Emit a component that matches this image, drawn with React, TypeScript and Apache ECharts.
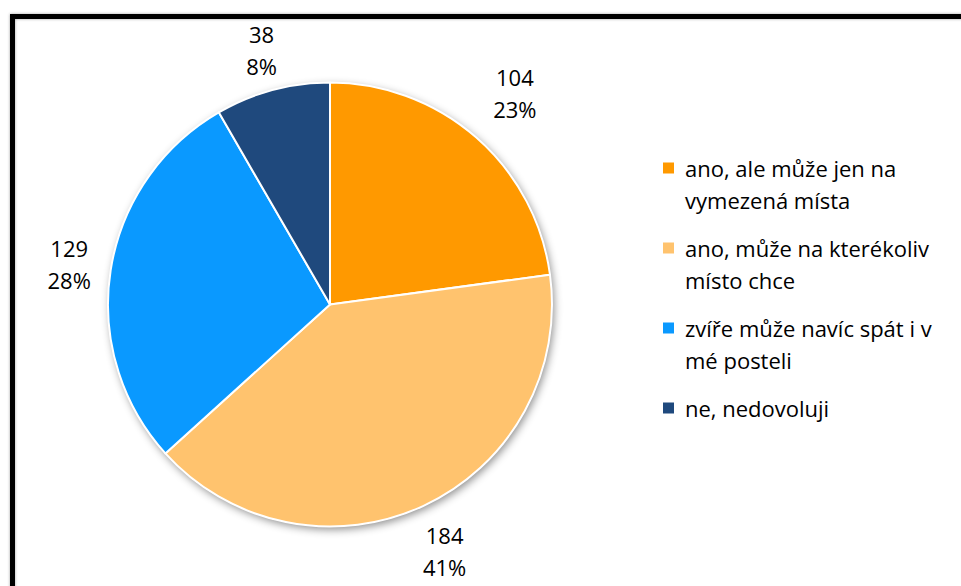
import React, { useEffect, useRef } from "react";
import * as echarts from "echarts";

const categories = [
  "ano, ale může jen na vymezená místa",
  "ano, může na kterékoliv místo chce",
  "zvíře může navíc spát i v mé posteli",
  "ne, nedovoluji",
];
const counts = [104, 184, 129, 38];
const legendLines = [
  "ano, ale může jen na\nvymezená místa",
  "ano, může na kterékoliv\nmísto chce",
  "zvíře může navíc spát i v\nmé posteli",
  "ne, nedovoluji\n ",
];
const sliceColors = ["#FF9900", "#FFC36E", "#0A99FF", "#1F497D"];
// which label ring carries each slice's label (0 = far, 1 = middle, 2 = near)
const labelRingOf = [0, 1, 2, 2];

const FONT = "'Open Sans', 'Noto Sans', sans-serif";

export default function App() {
  const ref = useRef<HTMLDivElement>(null);

  useEffect(() => {
    if (!ref.current) return;
    const chart = echarts.init(ref.current, null, { renderer: "svg" });
    const data = categories.map((name, i) => ({
      name,
      value: counts[i],
      itemStyle: { color: sliceColors[i] },
    }));
    const center = [330, 304.5];
    const R = 222;
    const labelStyle = {
      show: true,
      position: "inside",
      formatter: "{c}\n{d}%",
      fontFamily: FONT,
      fontSize: 22,
      lineHeight: 32,
      color: "#000",
      align: "center",
    };
    const ring = (name: string, radius: number[], idx: number) => ({
      type: "pie",
      name,
      z: 3,
      center,
      radius,
      startAngle: 90,
      clockwise: true,
      percentPrecision: 0,
      silent: true,
      emphasis: { disabled: true },
      itemStyle: { color: "rgba(0,0,0,0)", borderWidth: 0 },
      labelLine: { show: false },
      label: labelStyle,
      data: categories.map((n, i) => ({
        name: n,
        value: counts[i],
        label: { show: labelRingOf[i] === idx },
      })),
    });
    chart.setOption({
      animation: false,
      backgroundColor: "#ffffff",
      graphic: [
        {
          type: "rect",
          z: 100,
          silent: true,
          shape: { x: 12.5, y: 16.5, width: 1100, height: 1000 },
          style: {
            fill: "none",
            stroke: "#000",
            lineWidth: 5,
            shadowBlur: 3,
            shadowColor: "rgba(0,0,0,0.35)",
          },
        },
      ],
      legend: {
        orient: "vertical",
        left: 663,
        top: 152,
        padding: 0,
        itemGap: 16,
        itemWidth: 17,
        itemHeight: 64,
        selectedMode: false,
        data: categories.map((name) => ({
          name,
          icon: "path://M0 0 M17 64 M0 10.5 L11 10.5 L11 21.5 L0 21.5 Z",
        })),
        itemStyle: { borderWidth: 0 },
        formatter: (name: string) => legendLines[categories.indexOf(name)],
        textStyle: {
          fontFamily: FONT,
          fontSize: 22,
          lineHeight: 32,
          color: "#000",
        },
      },
      series: [
        {
          type: "pie",
          name: "shadow",
          silent: true,
          z: 1,
          center,
          radius: R,
          label: { show: false },
          labelLine: { show: false },
          emphasis: { disabled: true },
          data: [
            {
              name: "",
              value: 1,
              itemStyle: {
                color: "#ffffff",
                shadowBlur: 8,
                shadowOffsetX: 2,
                shadowOffsetY: 3,
                shadowColor: "rgba(0,0,0,0.45)",
              },
            },
          ],
        },
        {
          type: "pie",
          name: "main",
          z: 2,
          center,
          radius: R,
          startAngle: 90,
          clockwise: true,
          percentPrecision: 0,
          silent: true,
          emphasis: { disabled: true },
          itemStyle: { borderColor: "#ffffff", borderWidth: 2 },
          label: { show: false },
          labelLine: { show: false },
          data,
        },
        ring("labelsFar", [268, 288], 0),
        ring("labelsMid", [259, 279], 1),
        ring("labelsNear", [251, 271], 2),
      ],
    });
    return () => chart.dispose();
  }, []);

  return (
    <div
      ref={ref}
      style={{ position: "absolute", left: 0, top: 0, width: 961, height: 586 }}
    />
  );
}
